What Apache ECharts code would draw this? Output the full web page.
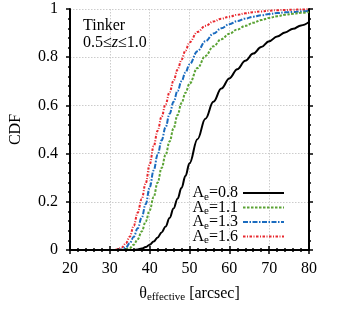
<!DOCTYPE html>
<html>
<head>
<meta charset="utf-8">
<script src="https://cdn.jsdelivr.net/npm/echarts@6/dist/echarts.min.js"></script>
<style>html,body{margin:0;padding:0;background:#fff;}#c{width:353px;height:314px;}</style>
</head>
<body>
<div id="c"></div>
<script>
var thetaX = [20,25,30,31,32,33,34,35,36,37,38,39,40,41,42,43,44,45,46,47,48,49,50,52,54,56,58,60,62,64,66,68,70,72,74,76,78,80];
var cdfAe08 = [0,0,0,0,0,0,0,0,0,0.002,0.006,0.012,0.022,0.035,0.052,0.073,0.098,0.133,0.172,0.213,0.258,0.308,0.36,0.46,0.545,0.615,0.67,0.712,0.75,0.785,0.815,0.842,0.866,0.886,0.903,0.918,0.932,0.946];
var cdfAe11 = [0,0,0,0,0,0,0.002,0.008,0.022,0.045,0.077,0.118,0.165,0.22,0.28,0.34,0.395,0.45,0.505,0.56,0.61,0.652,0.69,0.755,0.805,0.845,0.875,0.897,0.915,0.93,0.943,0.954,0.963,0.97,0.976,0.98,0.984,0.987];
var cdfAe13 = [0,0,0,0,0,0.002,0.01,0.028,0.055,0.09,0.135,0.19,0.26,0.33,0.395,0.455,0.51,0.565,0.615,0.66,0.70,0.737,0.77,0.825,0.866,0.898,0.92,0.937,0.95,0.96,0.968,0.974,0.979,0.983,0.986,0.988,0.99,0.992];
var cdfAe16 = [0,0,0,0,0.003,0.01,0.027,0.055,0.10,0.155,0.212,0.277,0.355,0.43,0.495,0.553,0.605,0.655,0.703,0.748,0.79,0.828,0.862,0.905,0.93,0.948,0.96,0.968,0.976,0.982,0.987,0.99,0.993,0.995,0.996,0.997,0.998,0.999];
var seriesNames = ['A_e=0.8','A_e=1.1','A_e=1.3','A_e=1.6'];
var aeValues = ['0.8','1.1','1.3','1.6'];
var xTicks = [20,30,40,50,60,70,80];
var yTicks = [0,0.2,0.4,0.6,0.8,1];

var FONT = 'Liberation Serif';
function pairs(ys){ return thetaX.map(function(x,i){return [x, ys[i]];}); }

var axisCommon = {
  axisLine:{show:true, lineStyle:{color:'#000', width:2}},
  axisTick:{show:true, inside:false, length:4, lineStyle:{color:'#000', width:1.5}},
  minorTick:{show:true, splitNumber:5, length:2, lineStyle:{color:'#000', width:1.5}},
};
var chart = echarts.init(document.getElementById('c'), null, {renderer:'canvas'});
var lineDefs = [
  {data:cdfAe08, color:'#000000', type:'solid', w:2},
  {data:cdfAe11, color:'#5ba335', type:[2.5,1.5], w:2},
  {data:cdfAe13, color:'#1a6bbf', type:[5,1.5,1.5,1.5], w:2},
  {data:cdfAe16, color:'#e8282e', type:[2.5,1.5,1,1.5], w:2}
];
var series = lineDefs.map(function(d,i){
  return {
    name: seriesNames[i], type:'line', data: pairs(d.data), showSymbol:false, symbol:'none',
    smooth:0.4, smoothMonotone:'x',
    lineStyle:{color:d.color, width:d.w, type:d.type}, itemStyle:{color:d.color},
    z: 10-i
  };
});
chart.setOption({
  animation:false,
  backgroundColor:'#fff',
  title:{
    left:78, top:12,
    text:'Tinker\n0.5≤{i|z}≤1.0',
    textStyle:{fontFamily:FONT, fontSize:16, fontWeight:'normal', color:'#000', lineHeight:17,
      rich:{i:{fontFamily:FONT, fontSize:16, fontStyle:'italic', color:'#000', lineHeight:17}}}
  },
  legend:{
    orient:'vertical', right:63, top:180, align:'right',
    itemWidth:41, itemHeight:12, itemGap:-3,
    itemStyle:{opacity:0, borderWidth:0},
    data: seriesNames,
    formatter:function(n){ var i = seriesNames.indexOf(n); return '{a|A}{s|e}{a|=' + aeValues[i] + '}'; },
    textStyle:{fontFamily:FONT, fontSize:16, color:'#000',
      rich:{a:{fontFamily:FONT, fontSize:16, color:'#000'},
            s:{fontFamily:FONT, fontSize:11, color:'#000', padding:[8,0,0,0]}}}
  },
  grid:{left:68, right:44, top:9, bottom:64},
  xAxis:[
    Object.assign({type:'value', min:20, max:80, interval:10, position:'bottom',
      axisLabel:{fontFamily:FONT, fontSize:16, color:'#000', margin:11},
      splitLine:{show:true, lineStyle:{color:'#cccccc', type:[1.5,1.5], width:1}},
      name:'{t|θ}{s|effective}{t| [arcsec]}', nameLocation:'middle', nameGap:35,
      nameTextStyle:{fontFamily:FONT, fontSize:16, color:'#000',
        rich:{t:{fontFamily:FONT, fontSize:16, color:'#000'},
              s:{fontFamily:FONT, fontSize:11, color:'#000', padding:[7,0,0,0]}}}
    }, axisCommon),
    Object.assign({type:'value', min:20, max:80, interval:10, position:'top',
      axisLabel:{show:false}, splitLine:{show:false}}, axisCommon)
  ],
  yAxis:[
    Object.assign({type:'value', min:0, max:1, interval:0.2, position:'left',
      axisLabel:{fontFamily:FONT, fontSize:16, color:'#000', margin:12},
      splitLine:{show:true, lineStyle:{color:'#cccccc', type:[1.5,1.5], width:1}},
      name:'CDF', nameLocation:'middle', nameGap:46, nameRotate:90,
      nameTextStyle:{fontFamily:FONT, fontSize:16, color:'#000'}
    }, axisCommon),
    Object.assign({type:'value', min:0, max:1, interval:0.2, position:'right',
      axisLabel:{show:false}, splitLine:{show:false}}, axisCommon)
  ],
  series: series
});
</script>
</body>
</html>
